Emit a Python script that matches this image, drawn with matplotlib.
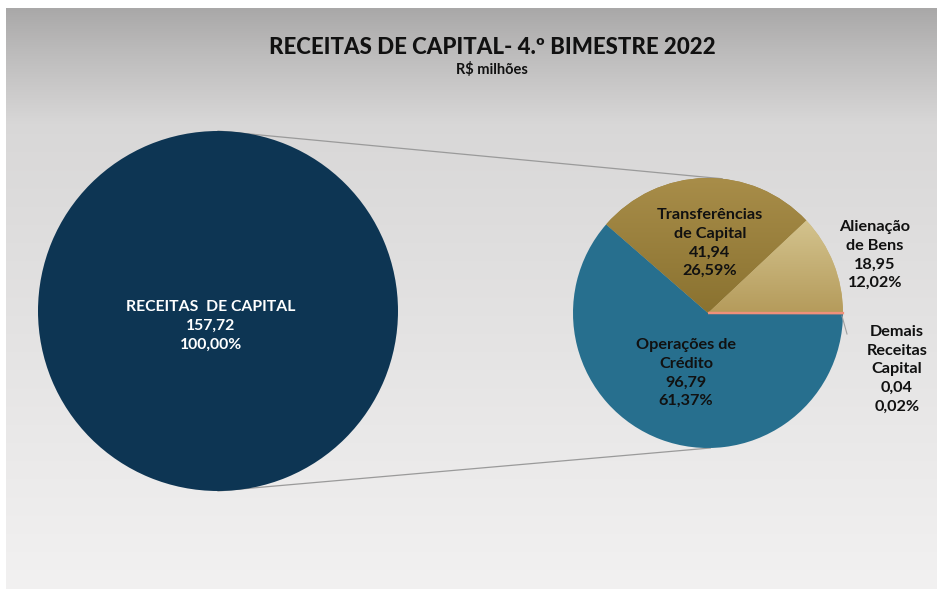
import numpy as np
import matplotlib
matplotlib.use("Agg")
import matplotlib.pyplot as plt
from matplotlib.colors import LinearSegmentedColormap

# ---- data ----
total_label = "RECEITAS  DE CAPITAL"
total_value = 157.72
total_pct = "100,00%"

categories = ["Alienação\nde Bens", "Transferências\nde Capital", "Operações de\nCrédito", "Demais\nReceitas\nCapital"]
values = [18.95, 41.94, 96.79, 0.04]
pct_labels = ["12,02%", "26,59%", "61,37%", "0,02%"]
colors = ["#c9b57c", "#9a8140", "#276f8e", "#f0907a"]

title = "RECEITAS DE CAPITAL- 4.º BIMESTRE 2022"
subtitle = "R$ milhões"

W, H = 940, 589
plt.rcParams['font.family'] = ['Lato', 'DejaVu Sans']

fig = plt.figure(figsize=(W / 100, H / 100), dpi=100)
fig.patch.set_facecolor("white")
ax = fig.add_axes([0, 0, 1, 1])
ax.set_xlim(0, W)
ax.set_ylim(0, H)
ax.axis("off")

def Y(ypx):
    return H - ypx

# background gradient
x0, x1, ytop, ybot = 6, 937, 8, 589
n = 300
fr = np.linspace(0, 1, n)  # 0 at top, 1 at bottom
stops_f = [0.0, 0.08, 0.2, 0.8, 1.0]
stops_v = [0.66, 0.74, 0.845, 0.92, 0.945]
vals = np.interp(fr, stops_f, stops_v)
grad = np.zeros((n, 2, 3))
grad[:, :, 0] = np.clip(vals + 0.004, 0, 1)[:, None]
grad[:, :, 1] = vals[:, None]
grad[:, :, 2] = vals[:, None]
ax.imshow(grad, extent=(x0, x1, Y(ybot), Y(ytop)), origin="upper", aspect="auto",
          interpolation="bilinear", zorder=0)

# geometry
big_c = (218, Y(311)); big_r = 180
pie_c = (708, Y(313)); pie_r = 135

# connector lines
def pt(c, r, ang):
    a = np.deg2rad(ang)
    return c[0] + r * np.cos(a), c[1] + r * np.sin(a)

for a_big, a_pie in [(90, 84), (-90, -89)]:
    p1 = pt(big_c, big_r, a_big)
    p2 = pt(pie_c, pie_r, a_pie)
    ax.plot([p1[0], p2[0]], [p1[1], p2[1]], color="#9a9a9a", lw=0.9, zorder=1)

# big circle
ax.pie([total_value], colors=["#0d3553"], center=big_c, radius=big_r,
       wedgeprops=dict(linewidth=0), frame=True)

# pie of pie
wedges, _ = ax.pie(values, colors=colors, startangle=0, counterclock=True,
                   center=pie_c, radius=pie_r, wedgeprops=dict(linewidth=0), frame=True)
wedges[3].set_edgecolor(colors[3]); wedges[3].set_linewidth(1.6); wedges[3].set_zorder(3)

# gradients on gold slices
def grad_fill(wedge, c_top, c_bot, ytop_d, ybot_d):
    cm = LinearSegmentedColormap.from_list("g", [c_bot, c_top])
    g = np.linspace(0, 1, 200)[:, None]
    im = ax.imshow(g, cmap=cm, extent=(pie_c[0] - pie_r, pie_c[0] + pie_r, ybot_d, ytop_d),
                   origin="lower", aspect="auto", interpolation="bilinear", zorder=2)
    im.set_clip_path(wedge)

grad_fill(wedges[1], "#a88d49", "#8a7230", pie_c[1] + pie_r, pie_c[1])
grad_fill(wedges[0], "#d4c48f", "#b59b5b", pie_c[1] + pie_r * 0.7, pie_c[1])

ax.set_xlim(0, W)
ax.set_ylim(0, H)
ax.set_aspect("auto")
ax.axis("off")

# Demais leader line
ax.plot([842, 847], [Y(316), Y(334)], color="#a0a0a0", lw=0.8, zorder=3)

def fmt(v):
    return f"{v:.2f}".replace(".", ",")

# texts
ax.text(492, Y(47), title, ha="center", va="center", fontsize=16, fontweight="black", color="#111111", zorder=5)
ax.text(492, Y(69), subtitle, ha="center", va="center", fontsize=10.5, fontweight="bold", color="#111111", zorder=5)

ax.text(211, Y(326), f"{total_label}\n{fmt(total_value)}\n{total_pct}", ha="center", va="center",
        fontsize=11.3, fontweight="bold", color="white", linespacing=1.45, zorder=5)

label_pos = [(875, 255), (710, 243), (686, 373), (897, 369.5)]
for cat, v, p, (lx, ly) in zip(categories, values, pct_labels, label_pos):
    ax.text(lx, Y(ly), f"{cat}\n{fmt(v)}\n{p}", ha="center", va="center",
            fontsize=11.7, fontweight="bold", color="#111111", linespacing=1.42, zorder=5)

fig.savefig("out.png", dpi=100, facecolor="white")
